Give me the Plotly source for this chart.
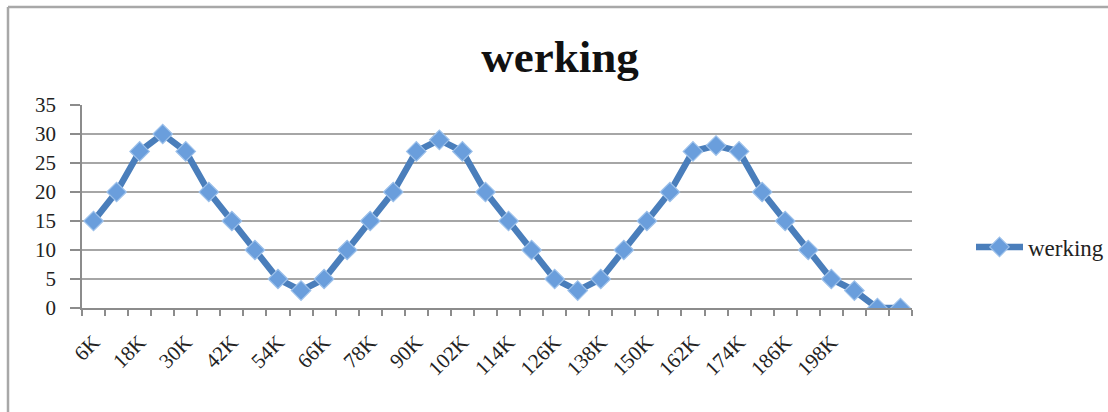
import plotly.graph_objects as go

# Load steps (in thousands) and the "werking" value measured at each step
steps_k = [6, 12, 18, 24, 30, 36, 42, 48, 54, 60, 66, 72, 78, 84, 90, 96, 102, 108,
           114, 120, 126, 132, 138, 144, 150, 156, 162, 168, 174, 180, 186, 192, 198,
           204, 210, 216]
categories = [f"{s}K" for s in steps_k]
werking = [15, 20, 27, 30, 27, 20, 15, 10, 5, 3, 5, 10, 15, 20, 27, 29, 27, 20,
           15, 10, 5, 3, 5, 10, 15, 20, 27, 28, 27, 20, 15, 10, 5, 3, 0, 0]

# Only every other category carries a label; the last two stay blank
shown_labels = {"6K", "18K", "30K", "42K", "54K", "66K", "78K", "90K", "102K",
                "114K", "126K", "138K", "150K", "162K", "174K", "186K", "198K"}
tick_text = [c if c in shown_labels else "" for c in categories]
y_ticks = [0, 5, 10, 15, 20, 25, 30, 35]

W, H = 1108, 412
L, R, T, B = 82, 196, 105, 104
pw, ph = W - L - R, H - T - B

LINE = "#4A7EBB"
FONT = "Liberation Serif"

fig = go.Figure()
fig.add_trace(go.Scatter(
    x=categories, y=werking, name="werking", mode="lines+markers",
    line=dict(color=LINE, width=6.5),
    marker=dict(symbol="diamond", size=15, color="#6A9EDC",
                line=dict(color="#9CC0EA", width=1.2)),
))


def px_x(v):
    return (v - L) / pw


def px_y(v):
    return (H - B - v) / ph


fig.update_layout(
    width=W, height=H,
    margin=dict(l=L, r=R, t=T, b=B, autoexpand=False),
    paper_bgcolor="white", plot_bgcolor="white",
    font=dict(family=FONT, size=21, color="#222222"),
    title=dict(text="<b>werking</b>", x=560 / W, xanchor="center",
               y=1 - 56 / H, yanchor="middle", yref="container", xref="container",
               font=dict(family=FONT, size=45, color="#111111")),
    showlegend=True,
    legend=dict(x=px_x(971), xanchor="left", y=px_y(247), yanchor="middle",
                font=dict(family=FONT, size=23, color="#222222"),
                bgcolor="rgba(0,0,0,0)", itemwidth=47),
    xaxis=dict(
        type="category", categoryorder="array", categoryarray=categories,
        tickmode="array", tickvals=categories, ticktext=tick_text,
        tickson="boundaries", ticks="outside", ticklen=6, tickcolor="#8C8C8C",
        tickwidth=1.5, tickangle=-45, ticklabelstandoff=12,
        showline=True, linecolor="#8C8C8C", linewidth=1.5,
        showgrid=False, zeroline=False,
        range=[-0.5, len(categories) - 0.5],
        tickfont=dict(family=FONT, size=21, color="#222222"),
    ),
    yaxis=dict(
        range=[0, 35], tickmode="array", tickvals=y_ticks,
        ticks="outside", ticklen=10, tickcolor="#8C8C8C", tickwidth=1.5,
        ticklabelstandoff=10,
        showline=True, linecolor="#8C8C8C", linewidth=1.5,
        showgrid=True, gridcolor="#A6A6A6", gridwidth=1.6,
        zeroline=False,
        tickfont=dict(family=FONT, size=21, color="#222222"),
    ),
    shapes=[
        # chart frame: top and left edges
        dict(type="line", xref="paper", yref="paper",
             x0=px_x(8), x1=px_x(W + 5), y0=px_y(7), y1=px_y(7),
             line=dict(color="#A8A8A8", width=2.5)),
        dict(type="line", xref="paper", yref="paper",
             x0=px_x(8), x1=px_x(8), y0=px_y(7), y1=px_y(H + 5),
             line=dict(color="#A8A8A8", width=2.5)),
    ],
)

fig.write_html("out.html")
